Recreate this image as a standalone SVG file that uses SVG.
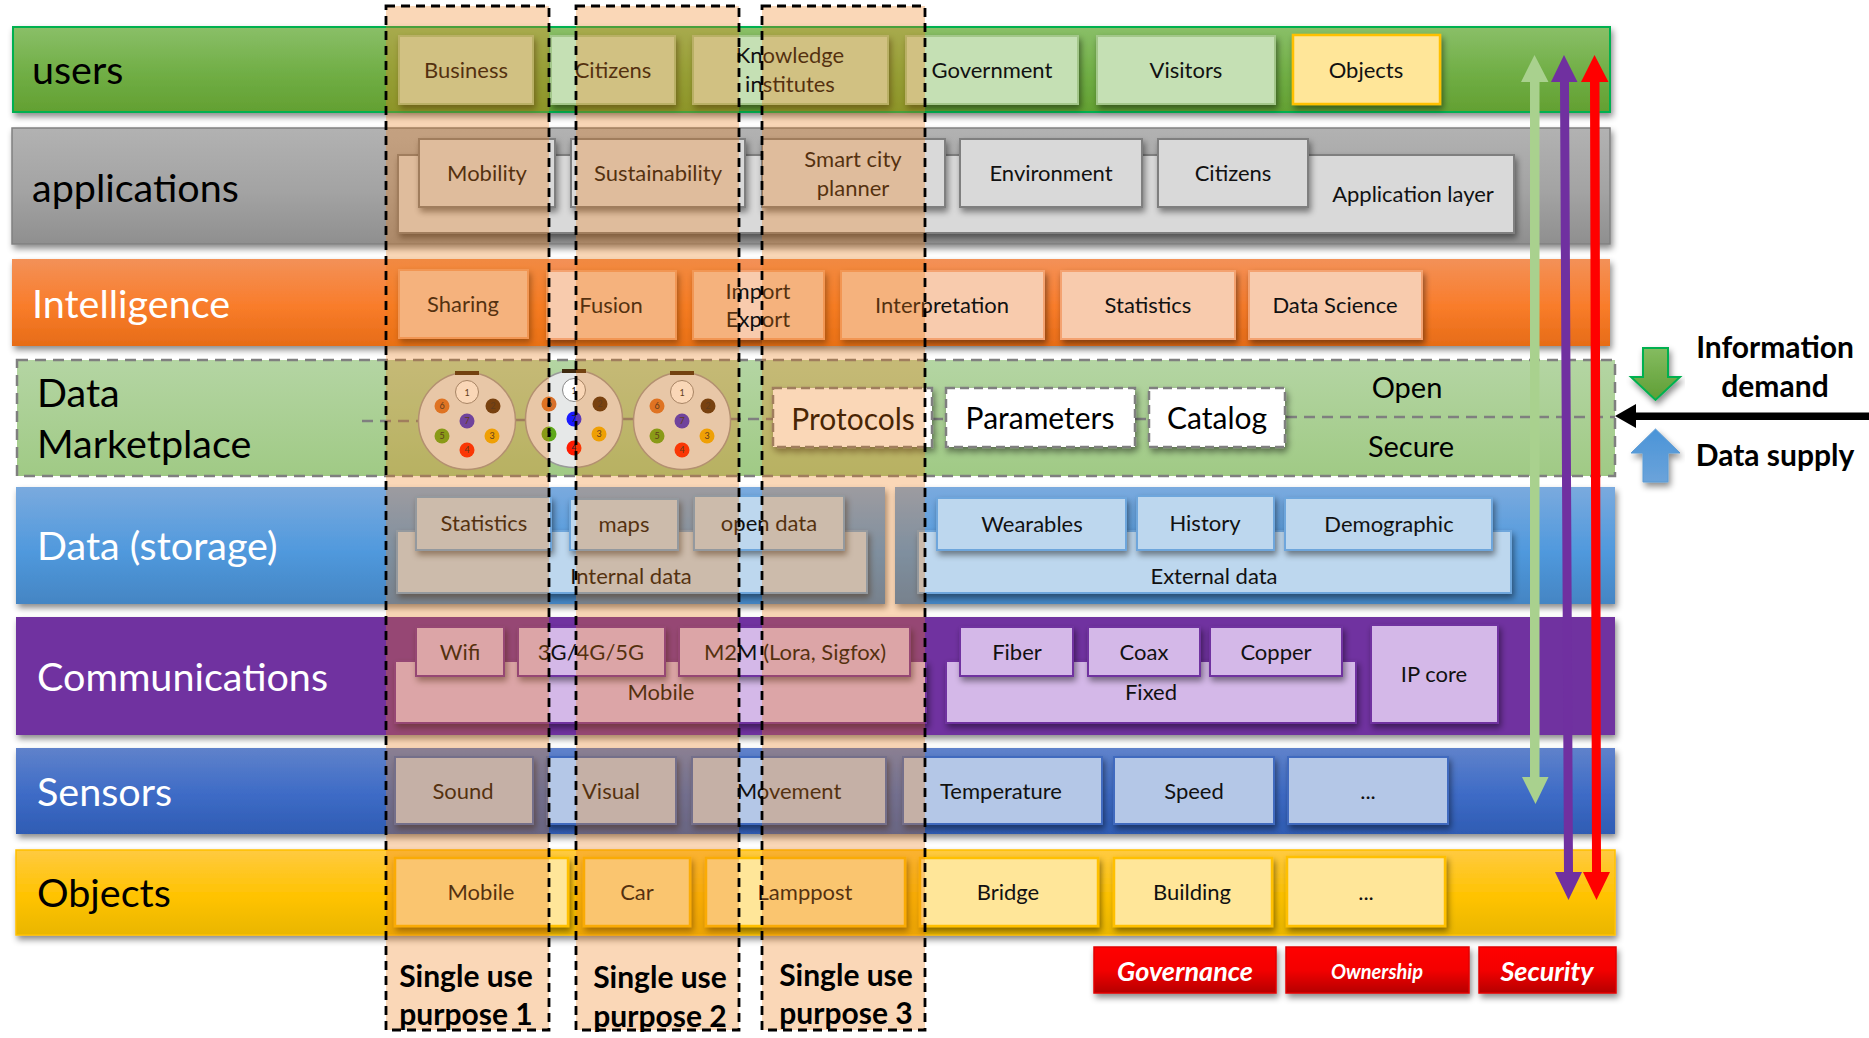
<svg xmlns="http://www.w3.org/2000/svg" width="1869" height="1038" viewBox="0 0 1869 1038">
<style>
text{font-family:Lato,"Open Sans",sans-serif;font-size:22px;text-anchor:middle;fill:#111}
.t{font-size:39.500px;text-anchor:start}
.w{fill:#fff}
.k{fill:#000}
.b{font-size:30px;font-weight:700;fill:#000}
.m{font-size:30px;fill:#000}
.rt{font-size:27px;font-weight:700;font-style:italic;fill:#fff}
.g1{fill:#c5e0b4;stroke:#a3c78a;stroke-width:2}
.g2{fill:#d9d9d9;stroke:#7f7f7f;stroke-width:2}
.g3{fill:#f8cbad;stroke:#f4a26f;stroke-width:2}
.g4{fill:#bdd7ee;stroke:#6ea6dc;stroke-width:2}
.g5{fill:#d4b8e8;stroke:#7030a0;stroke-width:2}
.g6{fill:#b4c7e7;stroke:#3f6bbf;stroke-width:2}
.g7{fill:#ffe699;stroke:#ffc000;stroke-width:2.500}
.dash{fill:#fff;stroke:#7f7f7f;stroke-width:2.500;stroke-dasharray:9 5}
.dl{fill:none;stroke:#7f7f7f;stroke-width:2.500;stroke-dasharray:11 7}
.ov{fill:#ed7a10;fill-opacity:.3;stroke:none}
.ol{fill:none;stroke:#000;stroke-width:2.800;stroke-dasharray:9 6}
.sh{filter:url(#s)}
.d{font-size:9px;fill:#222}
</style>
<defs>
<filter id="s" x="-10%" y="-15%" width="120%" height="140%"><feDropShadow dx="2" dy="4" stdDeviation="3" flood-color="#000" flood-opacity=".45"/></filter>
<linearGradient id="gG" x1="0" y1="0" x2="0" y2="1"><stop offset="0" stop-color="#8abf68"/><stop offset=".55" stop-color="#70ae45"/><stop offset="1" stop-color="#63a032"/></linearGradient>
<linearGradient id="gA" x1="0" y1="0" x2="0" y2="1"><stop offset="0" stop-color="#b2b2b2"/><stop offset=".55" stop-color="#a3a3a3"/><stop offset="1" stop-color="#8f8f8f"/></linearGradient>
<linearGradient id="gO" x1="0" y1="0" x2="0" y2="1"><stop offset="0" stop-color="#f39158"/><stop offset=".55" stop-color="#f97c2a"/><stop offset="1" stop-color="#e66c17"/></linearGradient>
<linearGradient id="gM" x1="0" y1="0" x2="0" y2="1"><stop offset="0" stop-color="#b4d5a3"/><stop offset="1" stop-color="#a0ca85"/></linearGradient>
<linearGradient id="gB" x1="0" y1="0" x2="0" y2="1"><stop offset="0" stop-color="#7aaade"/><stop offset=".55" stop-color="#5099dd"/><stop offset="1" stop-color="#4485c3"/></linearGradient>
<linearGradient id="gS" x1="0" y1="0" x2="0" y2="1"><stop offset="0" stop-color="#5f82cb"/><stop offset=".55" stop-color="#3d6bc6"/><stop offset="1" stop-color="#2f5cb3"/></linearGradient>
<linearGradient id="gY" x1="0" y1="0" x2="0" y2="1"><stop offset="0" stop-color="#ffca40"/><stop offset=".55" stop-color="#ffc300"/><stop offset="1" stop-color="#e9b600"/></linearGradient>
<linearGradient id="gR" x1="0" y1="0" x2="0" y2="1"><stop offset="0" stop-color="#ff0000"/><stop offset=".5" stop-color="#f40000"/><stop offset="1" stop-color="#b50000"/></linearGradient>
<linearGradient id="gDn" x1="0" y1="0" x2="0" y2="1"><stop offset="0" stop-color="#85bc60"/><stop offset="1" stop-color="#5f9e35"/></linearGradient>
<linearGradient id="gUp" x1="0" y1="0" x2="0" y2="1"><stop offset="0" stop-color="#4a94d8"/><stop offset="1" stop-color="#6ba3da"/></linearGradient>
</defs>

<g id="users">
<rect class="sh" x="13" y="27" width="1597" height="85" fill="url(#gG)" stroke="#00b050" stroke-width="2"/>
<text class="t k" x="32" y="84">users</text>
<g id="u-business"><rect class="g1 sh" x="399" y="36" width="134" height="68"/><text x="466" y="78">Business</text></g>
<g id="u-citizens"><rect class="g1 sh" x="551" y="36" width="124" height="68"/><text x="613" y="78">Citizens</text></g>
<g id="u-knowledge"><rect class="g1 sh" x="693" y="36" width="195" height="68"/><text x="790" y="63">Knowledge</text><text x="790" y="92">institutes</text></g>
<g id="u-government"><rect class="g1 sh" x="906" y="36" width="172" height="68"/><text x="992" y="78">Government</text></g>
<g id="u-visitors"><rect class="g1 sh" x="1097" y="36" width="178" height="68"/><text x="1186" y="78">Visitors</text></g>
<g id="u-objects"><rect class="g7 sh" x="1293" y="35" width="147" height="69"/><text x="1366" y="78">Objects</text></g>
</g>

<g id="applications">
<rect class="sh" x="12" y="128" width="1598" height="116" fill="url(#gA)" stroke="#808080" stroke-width="1.500"/>
<text class="t k" x="32" y="202">applications</text>
<g id="a-layer"><rect class="g2 sh" x="398" y="155" width="1116" height="78"/><text x="1413" y="202">Application layer</text></g>
<g id="a-mobility"><rect class="g2 sh" x="419" y="139" width="136" height="68"/><text x="487" y="181">Mobility</text></g>
<g id="a-sustainability"><rect class="g2 sh" x="571" y="139" width="174" height="68"/><text x="658" y="181">Sustainability</text></g>
<g id="a-smart"><rect class="g2 sh" x="762" y="139" width="183" height="68"/><text x="853" y="167">Smart city</text><text x="853" y="196">planner</text></g>
<g id="a-environment"><rect class="g2 sh" x="960" y="139" width="182" height="68"/><text x="1051" y="181">Environment</text></g>
<g id="a-citizens"><rect class="g2 sh" x="1158" y="139" width="150" height="68"/><text x="1233" y="181">Citizens</text></g>
</g>

<g id="intelligence">
<rect class="sh" x="12" y="259" width="1598" height="87" fill="url(#gO)"/>
<text class="t w" x="32" y="318">Intelligence</text>
<g id="i-sharing"><rect class="g3 sh" x="399" y="270" width="129" height="68"/><text x="463" y="312">Sharing</text></g>
<g id="i-fusion"><rect class="g3 sh" x="547" y="271" width="129" height="68"/><text x="611" y="313">Fusion</text></g>
<g id="i-import"><rect class="g3 sh" x="693" y="271" width="131" height="68"/><text x="758" y="299">Import</text><text x="758" y="327">Export</text></g>
<g id="i-interpretation"><rect class="g3 sh" x="841" y="271" width="203" height="68"/><text x="942" y="313">Interpretation</text></g>
<g id="i-statistics"><rect class="g3 sh" x="1061" y="271" width="174" height="68"/><text x="1148" y="313">Statistics</text></g>
<g id="i-science"><rect class="g3 sh" x="1249" y="271" width="173" height="68"/><text x="1335" y="313">Data Science</text></g>
</g>

<g id="marketplace">
<rect x="17" y="360" width="1598" height="116" fill="url(#gM)" stroke="#7f7f7f" stroke-width="2.500" stroke-dasharray="11 7"/>
<text class="t k" x="37" y="407">Data</text>
<text class="t k" x="37" y="458">Marketplace</text>
<path class="dl" d="M362 421H420M515 420H527M622 419H634M730 419H773M932 419H945M1135 419H1149M1286 417H1615"/>
<text class="m" x="1407" y="398" style="font-size:29px">Open</text>
<text class="m" x="1411" y="457" style="font-size:29px">Secure</text>
<g id="m-protocols"><rect class="dash sh" x="773" y="388" width="159" height="59"/><text class="m" x="853" y="430">Protocols</text></g>
<g id="m-parameters"><rect class="dash sh" x="946" y="388" width="189" height="59"/><text class="m" x="1040" y="429">Parameters</text></g>
<g id="m-catalog"><rect class="dash sh" x="1149" y="388" width="136" height="59"/><text class="m" x="1217" y="429">Catalog</text></g>
<g id="conn-1" transform="translate(467 421)"><circle r="48.500" fill="#e6e8e8" stroke="#9a9a9a" stroke-width="1.500"/><rect x="-12" y="-50" width="24" height="4" fill="#3f2a10"/><circle cy="-29" r="11.500" fill="#fff" stroke="#888"/><circle cx="26" cy="-15" r="7.500" fill="#46290f"/><circle cx="25" cy="15" r="7.500" fill="#f0b000"/><circle cy="29" r="7.500" fill="#ff1a00"/><circle cx="-25" cy="15" r="7.500" fill="#5fa81a"/><circle cx="-25" cy="-15" r="7.500" fill="#d8702a"/><circle r="7.500" fill="#3a2cd8"/><text class="d" y="-25">1</text><text class="d" x="26" y="-12">2</text><text class="d" x="25" y="18">3</text><text class="d" y="32">4</text><text class="d" x="-25" y="18">5</text><text class="d" x="-25" y="-12">6</text><text class="d" y="3">7</text></g>
<g id="conn-2" transform="translate(574 419)"><circle r="48.500" fill="#e6e8e8" stroke="#9a9a9a" stroke-width="1.500"/><rect x="-12" y="-50" width="24" height="4" fill="#3f2a10"/><circle cy="-29" r="11.500" fill="#fff" stroke="#888"/><circle cx="26" cy="-15" r="7.500" fill="#46290f"/><circle cx="25" cy="15" r="7.500" fill="#f0b000"/><circle cy="29" r="7.500" fill="#ff1a00"/><circle cx="-25" cy="15" r="7.500" fill="#5fa81a"/><circle cx="-25" cy="-15" r="7.500" fill="#d8702a"/><circle r="7.500" fill="#1a1aff"/><text class="d" y="-25">1</text><text class="d" x="26" y="-12">2</text><text class="d" x="25" y="18">3</text><text class="d" y="32">4</text><text class="d" x="-25" y="18">5</text><text class="d" x="-25" y="-12">6</text><text class="d" y="3">7</text></g>
<g id="conn-3" transform="translate(682 421)"><circle r="48.500" fill="#e6e8e8" stroke="#9a9a9a" stroke-width="1.500"/><rect x="-12" y="-50" width="24" height="4" fill="#3f2a10"/><circle cy="-29" r="11.500" fill="#fff" stroke="#888"/><circle cx="26" cy="-15" r="7.500" fill="#46290f"/><circle cx="25" cy="15" r="7.500" fill="#f0b000"/><circle cy="29" r="7.500" fill="#ff1a00"/><circle cx="-25" cy="15" r="7.500" fill="#5fa81a"/><circle cx="-25" cy="-15" r="7.500" fill="#d8702a"/><circle r="7.500" fill="#3a2cd8"/><text class="d" y="-25">1</text><text class="d" x="26" y="-12">2</text><text class="d" x="25" y="18">3</text><text class="d" y="32">4</text><text class="d" x="-25" y="18">5</text><text class="d" x="-25" y="-12">6</text><text class="d" y="3">7</text></g>
</g>

<g id="data-storage">
<rect class="sh" x="16" y="487" width="869" height="117" fill="url(#gB)"/>
<rect class="sh" x="895" y="487" width="720" height="117" fill="url(#gB)"/>
<text class="t w" x="37" y="560">Data (storage)</text>
<g id="d-internal"><rect class="g4 sh" x="397" y="531" width="470" height="62"/><text x="631" y="584">Internal data</text></g>
<g id="d-statistics"><rect class="g4 sh" x="416" y="497" width="135" height="53"/><text x="484" y="531">Statistics</text></g>
<g id="d-maps"><rect class="g4 sh" x="570" y="499" width="108" height="51"/><text x="624" y="532">maps</text></g>
<g id="d-open"><rect class="g4 sh" x="694" y="496" width="150" height="54"/><text x="769" y="531">open data</text></g>
<g id="d-external"><rect class="g4 sh" x="918" y="531" width="593" height="62"/><text x="1214" y="584">External data</text></g>
<g id="d-wearables"><rect class="g4 sh" x="937" y="498" width="189" height="52"/><text x="1032" y="532">Wearables</text></g>
<g id="d-history"><rect class="g4 sh" x="1137" y="496" width="137" height="54"/><text x="1205" y="531">History</text></g>
<g id="d-demographic"><rect class="g4 sh" x="1285" y="498" width="207" height="52"/><text x="1389" y="532">Demographic</text></g>
</g>

<g id="communications">
<rect class="sh" x="16" y="617" width="1599" height="118" fill="#7030a0"/>
<text class="t w" x="37" y="691">Communications</text>
<g id="c-mobile"><rect class="g5 sh" x="395" y="661" width="531" height="62"/><text x="661" y="700">Mobile</text></g>
<g id="c-wifi"><rect class="g5 sh" x="416" y="627" width="88" height="49"/><text x="460" y="660">Wifi</text></g>
<g id="c-3g"><rect class="g5 sh" x="518" y="627" width="147" height="49"/><text x="591" y="660">3G/4G/5G</text></g>
<g id="c-m2m"><rect class="g5 sh" x="679" y="627" width="231" height="49"/><text x="795" y="660">M2M (Lora, Sigfox)</text></g>
<g id="c-fixed"><rect class="g5 sh" x="946" y="661" width="410" height="62"/><text x="1151" y="700">Fixed</text></g>
<g id="c-fiber"><rect class="g5 sh" x="960" y="627" width="113" height="49"/><text x="1017" y="660">Fiber</text></g>
<g id="c-coax"><rect class="g5 sh" x="1088" y="627" width="112" height="49"/><text x="1144" y="660">Coax</text></g>
<g id="c-copper"><rect class="g5 sh" x="1210" y="627" width="132" height="49"/><text x="1276" y="660">Copper</text></g>
<g id="c-ip"><rect class="g5 sh" x="1371" y="625" width="127" height="98"/><text x="1434" y="682">IP core</text></g>
</g>

<g id="sensors">
<rect class="sh" x="16" y="748" width="1599" height="86" fill="url(#gS)"/>
<text class="t w" x="37" y="806">Sensors</text>
<g id="s-sound"><rect class="g6 sh" x="395" y="757" width="138" height="67"/><text x="463" y="799">Sound</text></g>
<g id="s-visual"><rect class="g6 sh" x="547" y="757" width="129" height="67"/><text x="611" y="799">Visual</text></g>
<g id="s-movement"><rect class="g6 sh" x="692" y="757" width="194" height="67"/><text x="789" y="799">Movement</text></g>
<g id="s-temperature"><rect class="g6 sh" x="903" y="757" width="199" height="67"/><text x="1001" y="799">Temperature</text></g>
<g id="s-speed"><rect class="g6 sh" x="1114" y="757" width="160" height="67"/><text x="1194" y="799">Speed</text></g>
<g id="s-more"><rect class="g6 sh" x="1288" y="757" width="160" height="67"/><text x="1368" y="799">...</text></g>
</g>

<g id="objects">
<rect class="sh" x="16" y="850" width="1599" height="85" fill="url(#gY)" stroke="#ffc000" stroke-width="1.500"/>
<text class="t k" x="37" y="907">Objects</text>
<g id="o-mobile"><rect class="g7 sh" x="395" y="858" width="173" height="68"/><text x="481" y="900">Mobile</text></g>
<g id="o-car"><rect class="g7 sh" x="584" y="858" width="106" height="68"/><text x="637" y="900">Car</text></g>
<g id="o-lamppost"><rect class="g7 sh" x="706" y="858" width="199" height="68"/><text x="805" y="900">Lamppost</text></g>
<g id="o-bridge"><rect class="g7 sh" x="920" y="858" width="178" height="68"/><text x="1008" y="900">Bridge</text></g>
<g id="o-building"><rect class="g7 sh" x="1114" y="858" width="158" height="68"/><text x="1192" y="900">Building</text></g>
<g id="o-more"><rect class="g7 sh" x="1287" y="857" width="158" height="69"/><text x="1366" y="900">...</text></g>
</g>

<g id="connectors">
<path fill="#a9d18e" d="M1534.500 55L1548.500 82H1539.500V777H1548.500L1535.500 804L1522 777H1530V82H1521Z"/>
<path fill="#7030a0" d="M1564 55L1577.500 82H1569L1573 872H1582L1568.500 900L1555 872H1564L1560 82H1551Z"/>
<path fill="#ff0000" d="M1594.500 55L1608.500 82H1599.500L1601 872H1610L1596.500 900L1583 872H1592L1590 82H1581Z"/>
<path fill="#000" d="M1869 412.500V420H1636V428L1615 416L1636 404V412.500Z"/>
<path class="sh" fill="url(#gDn)" stroke="#00b050" stroke-width="2" d="M1643 348H1668V377H1680L1655.500 400L1631 377H1643Z"/>
<path class="sh" fill="url(#gUp)" stroke="#5b9bd5" stroke-width="1" d="M1655.500 429L1680 453H1668V482H1643V453H1631Z"/>
</g>

<g id="purpose-1"><rect class="ov" x="386" y="6" width="163" height="1024"/><rect class="ol" x="386" y="6" width="163" height="1024"/><text class="b" x="466" y="987">Single use</text><text class="b" x="466" y="1025">purpose 1</text></g>
<g id="purpose-2"><rect class="ov" x="576" y="6" width="163" height="1024"/><rect class="ol" x="576" y="6" width="163" height="1024"/><text class="b" x="660" y="988">Single use</text><text class="b" x="660" y="1027">purpose 2</text></g>
<g id="purpose-3"><rect class="ov" x="762" y="6" width="163" height="1024"/><rect class="ol" x="762" y="6" width="163" height="1024"/><text class="b" x="846" y="986">Single use</text><text class="b" x="846" y="1024">purpose 3</text></g>

<g id="information"><text class="b" x="1775" y="358">Information</text><text class="b" x="1775" y="397">demand</text></g>
<g id="supply"><text class="b" x="1775" y="466">Data supply</text></g>

<g id="governance"><rect class="sh" x="1094" y="947" width="182" height="46" fill="url(#gR)" stroke="#e00000" stroke-width="1.500"/><text class="rt" x="1185" y="981">Governance</text></g>
<g id="ownership"><rect class="sh" x="1286" y="947" width="183" height="46" fill="url(#gR)" stroke="#e00000" stroke-width="1.500"/><text class="rt" x="1377" y="979" style="font-size:20px">Ownership</text></g>
<g id="security"><rect class="sh" x="1479" y="947" width="137" height="46" fill="url(#gR)" stroke="#e00000" stroke-width="1.500"/><text class="rt" x="1547" y="981">Security</text></g>
</svg>
